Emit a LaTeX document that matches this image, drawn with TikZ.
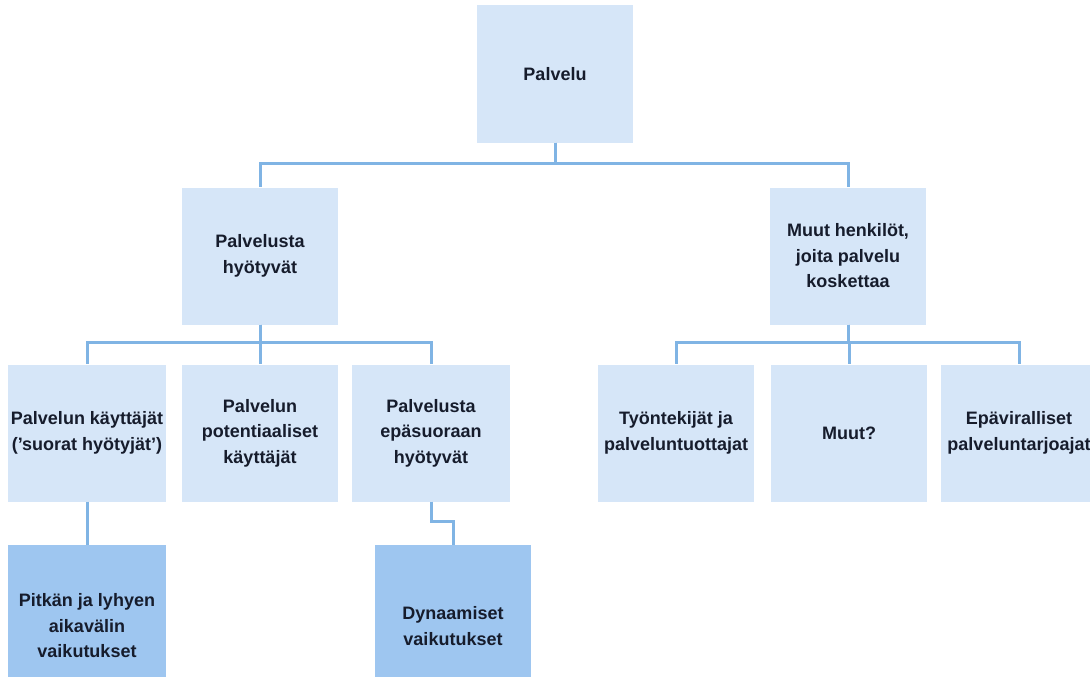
\documentclass[tikz,border=0pt]{standalone}
\usepackage{fontspec}
\setmainfont{Liberation Sans}
\usepackage{xcolor}
\usepackage{tikz}
\usetikzlibrary{positioning}

\definecolor{boxlight}{RGB}{214,230,248}
\definecolor{boxdark}{RGB}{158,198,240}
\definecolor{linkblue}{RGB}{128,180,228}
\definecolor{textnavy}{RGB}{22,28,44}

\begin{document}
\begin{tikzpicture}[x=1pt, y=-1pt,
    box/.style={fill=boxlight, minimum width=156pt, minimum height=137pt, inner sep=0pt,
        align=center, text=textnavy, font=\fontsize{18}{25.5}\selectfont\bfseries},
    darkbox/.style={box, fill=boxdark, minimum height=162pt},
    link/.style={draw=linkblue, line width=3pt}]
    \useasboundingbox (0,0) rectangle (1090,677);

    \node[box] (palvelu) at (555,74) {Palvelu};
    \node[box] (hyotyvat) at (260,256) {Palvelusta\\hyötyvät};
    \node[box] (muut) at (848,256) {Muut henkilöt,\\joita palvelu\\koskettaa};

    \node[box, minimum width=158pt] (kayttajat) at (87,433) {Palvelun käyttäjät\\('suorat hyötyjät')};
    \node[box] (potentiaaliset) at (260,433) {Palvelun\\potentiaaliset\\käyttäjät};
    \node[box, minimum width=158pt] (epasuora) at (431,433) {Palvelusta\\epäsuoraan\\hyötyvät};
    \node[box] (tyontekijat) at (676,433) {Työntekijät ja\\palveluntuottajat};
    \node[box] (muutko) at (849,433) {Muut?};
    \node[box] (epaviralliset) at (1019,433) {Epäviralliset\\palveluntarjoajat};

    \node[darkbox, minimum width=158pt] (pitkan) at (87,626) {Pitkän ja lyhyen\\aikavälin\\vaikutukset};
    \node[darkbox] (dynaamiset) at (453,626) {Dynaamiset\\vaikutukset};

    % tree links
    \foreach \n in {hyotyvat, muut}
        \draw[link] (palvelu.south) -- ++(0,21) -| (\n.north);
    \foreach \n in {kayttajat, potentiaaliset, epasuora}
        \draw[link] (hyotyvat.south) -- ++(0,18) -| (\n.north);
    \foreach \n in {tyontekijat, muutko, epaviralliset}
        \draw[link] (muut.south) -- ++(0,18) -| (\n.north);

    \draw[link] (kayttajat.south) -- (pitkan.north);
    \draw[link] (epasuora.south) -- ++(0,20) -| (dynaamiset.north);
\end{tikzpicture}
\end{document}
